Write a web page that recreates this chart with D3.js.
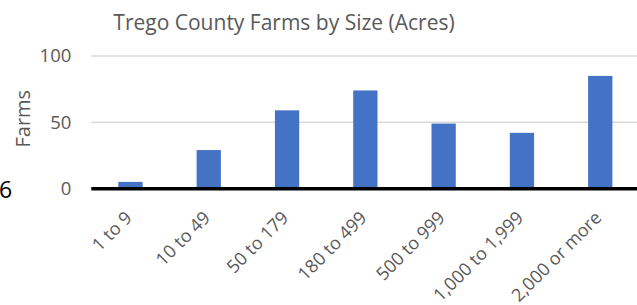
<!DOCTYPE html>
<html>
<head>
<meta charset="utf-8">
<script src="https://cdn.jsdelivr.net/npm/d3@7"></script>
<style>
  html, body { margin: 0; padding: 0; background: #fff; }
  svg { display: block; font-family: "Open Sans", "Noto Sans", sans-serif; }
</style>
</head>
<body>
<svg id="chart" width="637" height="305"></svg>
<script>
const categories = ["1 to 9", "10 to 49", "50 to 179", "180 to 499", "500 to 999", "1,000 to 1,999", "2,000 or more"];
const farms = [5, 29, 59, 74, 49, 42, 85];
const yTicks = [0, 50, 100];
const titleText = "Trego County Farms by Size (Acres)";
const yTitle = "Farms";

const W = 637, H = 305;
const plot = { left: 91.3, right: 639.4, top: 56, bottom: 188.5 };

const svg = d3.select("#chart");

const x = d3
  .scaleBand()
  .domain(categories)
  .range([plot.left, plot.right])
  .paddingInner(0.69)
  .paddingOuter(0.345);

const y = d3.scaleLinear().domain([0, 100]).range([plot.bottom, plot.top]);

// タイトル
svg
  .append("text")
  .attr("x", 284)
  .attr("y", 30)
  .attr("text-anchor", "middle")
  .attr("font-size", 21)
  .attr("fill", "#595959")
  .text(titleText);

// グリッド線
svg
  .append("g")
  .selectAll("line")
  .data(yTicks.filter((d) => d > 0))
  .join("line")
  .attr("x1", plot.left)
  .attr("x2", W)
  .attr("y1", (d) => y(d))
  .attr("y2", (d) => y(d))
  .attr("stroke", "#d9d9d9")
  .attr("stroke-width", 1.5);

// Y軸ラベル
const yAxis = svg
  .append("g")
  .attr("transform", `translate(${plot.left - 20},0)`)
  .call(d3.axisLeft(y).tickValues(yTicks).tickSize(0).tickPadding(0))
  .attr("font-family", null)
  .attr("font-size", 18.5);
yAxis.select(".domain").remove();
yAxis.selectAll("text").attr("fill", "#595959");

svg
  .append("text")
  .attr("transform", "translate(30,118.7) rotate(-90)")
  .attr("text-anchor", "middle")
  .attr("font-size", 20)
  .attr("fill", "#595959")
  .text(yTitle);

// 棒
svg
  .append("g")
  .selectAll("rect")
  .data(farms)
  .join("rect")
  .attr("x", (d, i) => x(categories[i]))
  .attr("width", x.bandwidth())
  .attr("y", (d) => y(d))
  .attr("height", (d) => y(0) - y(d))
  .attr("fill", "#4472c4");

// X軸
const xAxis = svg
  .append("g")
  .attr("transform", `translate(0,${plot.bottom})`)
  .call(d3.axisBottom(x).tickSize(0).tickPadding(0))
  .attr("font-family", null)
  .attr("font-size", 18);
xAxis.select(".domain").remove();
xAxis
  .selectAll(".tick text")
  .attr("fill", "#595959")
  .attr("text-anchor", "end")
  .attr("dy", "0.35em")
  .attr("transform", "translate(-2,26) rotate(-45)");

svg
  .append("line")
  .attr("x1", plot.left)
  .attr("x2", W)
  .attr("y1", plot.bottom + 0.2)
  .attr("y2", plot.bottom + 0.2)
  .attr("stroke", "#000")
  .attr("stroke-width", 3.5);

// 左端の切れた数字
svg
  .append("text")
  .attr("x", -1)
  .attr("y", 198)
  .attr("font-size", 23)
  .attr("fill", "#000")
  .text("6");
</script>
</body>
</html>
